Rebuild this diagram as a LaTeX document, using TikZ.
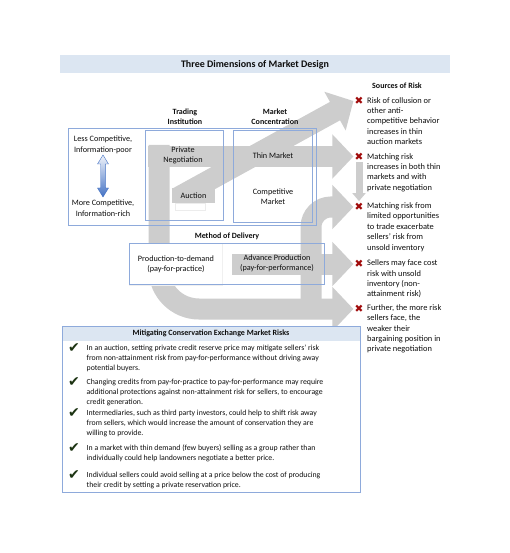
\documentclass[tikz,border=0pt]{standalone}
\usepackage{fontspec}
\setmainfont{Carlito}
\newfontfamily\symfont{DejaVu Sans}
\usetikzlibrary{arrows.meta}
\definecolor{titleblue}{HTML}{DCE6F2}
\definecolor{frameblue}{HTML}{8EAADB}
\definecolor{bandgray}{HTML}{CDCDCD}
\definecolor{arrowblue}{HTML}{4472C4}
\definecolor{riskred}{HTML}{A00A0A}
\definecolor{tickgreen}{HTML}{1C3312}
\definecolor{inkgray}{HTML}{0D0D0D}

\begin{document}
\begin{tikzpicture}[x=1pt, y=-1pt,
      every node/.style={font=\fontsize{8.2}{10.4}\selectfont, inner sep=0pt, text=inkgray},
      lbl/.style={align=center},
      hdr/.style={align=center, font=\fontsize{8}{10.2}\selectfont\bfseries},
      riskitem/.style={anchor=west, align=left, font=\fontsize{8.4}{10.4}\selectfont},
      mititem/.style={anchor=west, align=left, font=\fontsize{7.8}{10}\selectfont},
      xmark/.style={font=\symfont\fontsize{10.5}{10.5}\selectfont, text=riskred},
      tick/.style={font=\symfont\fontsize{14}{14}\selectfont, text=tickgreen},
      frame/.style={draw=frameblue, line width=0.6pt},
      band/.style={draw=bandgray, line width=21pt,
                   -{Triangle[length=21pt, width=43pt]}},
    ]
    \useasboundingbox (0,0) rectangle (510,553);

    \fill[titleblue] (60,55) rectangle (450,73);
    \node[font=\fontsize{10}{12}\selectfont\bfseries] (title) at (255,64.5)
      {Three Dimensions of Market Design};

    \node[hdr] (srchead) at (397,86) {Sources of Risk};
    \node[xmark] (x1) at (359,101) {✖};
    \node[xmark] (x2) at (359,156.5) {✖};
    \node[xmark] (x3) at (359,207) {✖};
    \node[xmark] (x4) at (359,264) {✖};
    \node[xmark] (x5) at (359,309) {✖};

    \draw[band] (148,156.5) -- ([xshift=-1pt]x2.west);
    \draw[band, rounded corners=40pt] (159,145) -- (159,309) -- ([xshift=-1pt]x5.west);
    \draw[band, rounded corners=20pt] (311,309) -- (311,207) -- ([xshift=-1pt]x3.west);
    \draw[band] (232,264) -- ([xshift=-1pt]x4.west);
    \draw[band] (177,198) -- ([xshift=-1pt]x1.west);
    \fill[bandgray] (172,188) rectangle (215,203);
    \draw[draw=bandgray, line width=7pt, -{Triangle[length=8pt, width=13pt]}]
      ([yshift=-2pt]x2.south) -- ([yshift=2pt]x3.north);

    \filldraw[fill=white, draw=gray!12] (129,243) rectangle (222,285);
    \filldraw[fill=white, draw=gray!15] (175,203) rectangle (205,210);

    \draw[frame] (68,128) rectangle (316,225);
    \draw[frame] (145,130) rectangle (223,220);
    \draw[frame, line width=0.9pt] (233,130) rectangle (312,222);
    \draw[frame] (129,243) rectangle (324,284);

    \node[hdr] (trading) at (185,117) {Trading\\Institution};
    \node[hdr] (concent) at (275,117) {Market\\Concentration};
    \node[lbl] (less) at (103,145) {Less Competitive,\\Information-poor};
    \node[lbl] (more) at (103,208) {More Competitive,\\Information-rich};
    \shadedraw[top color=arrowblue!8, bottom color=arrowblue, draw=arrowblue,
               line width=0.4pt]
      (103,155) -- (108.5,164) -- (105.3,164) -- (105.3,188) -- (108.5,188)
      -- (103,197) -- (97.5,188) -- (100.7,188) -- (100.7,164) -- (97.5,164) -- cycle;
    \node[lbl] (privneg) at (183,155.5) {Private\\Negotiation};
    \node[lbl] (auction) at (193.5,195.5) {Auction};
    \node[lbl] (thin) at (273,156) {Thin Market};
    \node[lbl] (compet) at (273,196.5) {Competitive\\Market};
    \node[hdr] (delivery) at (227,236) {Method of Delivery};
    \node[lbl] (prod) at (176,264.5) {Production-to-demand\\(pay-for-practice)};
    \node[lbl] (advance) at (277,263.5) {Advance Production\\(pay-for-performance)};

    \node[riskitem] (r1) at (367,121) {Risk of collusion or\\other anti-\\competitive behavior\\increases in thin\\auction markets};
    \node[riskitem] (r2) at (367,172.5) {Matching risk\\increases in both thin\\markets and with\\private negotiation};
    \node[riskitem] (r3) at (367,227) {Matching risk from\\limited opportunities\\to trade exacerbate\\sellers’ risk from\\unsold inventory};
    \node[riskitem] (r4) at (367,279) {Sellers may face cost\\risk with unsold\\inventory (non-\\attainment risk)};
    \node[riskitem] (r5) at (367,329) {Further, the more risk\\sellers face, the\\weaker their\\bargaining position in\\private negotiation};

    \fill[titleblue] (62,326) rectangle (360,341);
    \draw[frame] (62,326) rectangle (360,492);
    \node[hdr] (mithead) at (211,333.5) {Mitigating Conservation Exchange Market Risks};
    \node[tick] (t1) at (74,348.5) {✔};
    \node[tick] (t2) at (74,382) {✔};
    \node[tick] (t3) at (74,413) {✔};
    \node[tick] (t4) at (74,448) {✔};
    \node[tick] (t5) at (74,475) {✔};
    \node[mititem] (m1) at (86.5,358) {In an auction, setting private credit reserve price may mitigate sellers’ risk\\from non-attainment risk from pay-for-performance without driving away\\potential buyers.};
    \node[mititem] (m2) at (86.5,392) {Changing credits from pay-for-practice to pay-for-performance may require\\additional protections against non-attainment risk for sellers, to encourage\\credit generation.};
    \node[mititem] (m3) at (86.5,423) {Intermediaries, such as third party investors, could help to shift risk away\\from sellers, which would increase the amount of conservation they are\\willing to provide.};
    \node[mititem] (m4) at (86.5,453) {In a market with thin demand (few buyers) selling as a group rather than\\individually could help landowners negotiate a better price.};
    \node[mititem] (m5) at (86.5,480) {Individual sellers could avoid selling at a price below the cost of producing\\their credit by setting a private reservation price.};
  \end{tikzpicture}
\end{document}
